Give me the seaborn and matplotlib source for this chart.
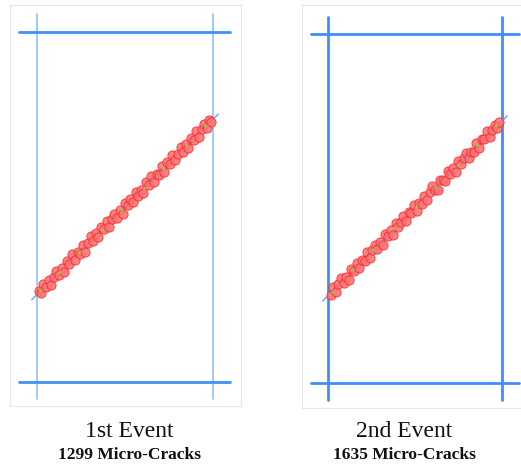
import matplotlib
matplotlib.use("Agg")
import matplotlib.pyplot as plt
import seaborn as sns
import pandas as pd

sns.set_style("white")
plt.rcParams['font.family'] = ['Liberation Serif', 'DejaVu Serif']

# specimen geometry (units)
spec_w = 50
spec_h = 100
overhang = 5
# fracture plane (x0, y0) -> (x1, y1)
frac_x = [-1.5, 51.5]
frac_y = [23.5, 76.5]

titles = ["1st Event", "2nd Event"]
counts = ["1299 Micro-Cracks", "1635 Micro-Cracks"]

ev1_x = [0.5, 1.2, 1.8, 2.6, 3.3, 4.0, 4.9, 5.5, 6.3, 7.0, 7.8, 8.5, 9.1, 10.0, 10.7, 11.5, 12.2,
         13.0, 13.6, 14.5, 15.2, 16.0, 16.7, 17.4, 18.3, 19.0, 19.8, 20.5, 21.2, 22.0, 22.8, 23.5,
         24.3, 25.0, 25.8, 26.5, 27.3, 28.0, 28.8, 29.5, 30.2, 31.0, 31.8, 32.5, 33.3, 34.0, 34.8,
         35.5, 36.2, 37.0, 37.8, 38.5, 39.3, 40.0, 40.8, 41.5, 42.3, 43.0, 43.8, 44.5, 45.3, 46.0,
         46.8, 47.5, 48.3, 49.0, 49.6]
ev1_y = [25.9, 25.3, 27.9, 27.1, 29.1, 27.8, 30.1, 31.8, 30.6, 32.6, 31.5, 34.5, 33.8, 36.4, 34.7,
         37.0, 36.6, 39.2, 37.2, 39.8, 41.7, 40.2, 42.4, 41.3, 44.3, 43.6, 46.1, 44.3, 46.6, 48.1,
         46.9, 49.1, 47.9, 51.2, 50.6, 52.4, 51.3, 54.4, 53.2, 54.8, 53.9, 57.0, 56.3, 58.8, 57.2,
         59.5, 59.0, 61.6, 60.0, 62.7, 62.4, 64.9, 63.3, 65.2, 67.0, 65.6, 67.9, 66.7, 69.8, 69.2,
         71.6, 69.9, 72.2, 73.6, 72.6, 74.8, 74.2]

ev2_x = [0.8, 1.5, 2.2, 3.0, 3.7, 4.5, 5.2, 6.0, 6.7, 7.5, 8.2, 9.0, 9.7, 10.5, 11.2, 12.0, 12.7,
         13.5, 14.2, 15.0, 15.7, 16.5, 17.2, 18.0, 18.7, 19.5, 20.2, 21.0, 21.7, 22.5, 23.2, 24.0,
         24.7, 25.5, 26.2, 27.0, 27.7, 28.5, 29.2, 30.0, 30.7, 31.5, 32.2, 33.0, 33.7, 34.5, 35.2,
         36.0, 36.7, 37.5, 38.2, 39.0, 39.7, 40.5, 41.2, 42.0, 42.7, 43.5, 44.2, 45.0, 45.7, 46.5,
         47.2, 48.0, 48.7, 49.3]
ev2_y = [25.2, 27.5, 26.0, 28.4, 30.0, 28.7, 30.4, 29.6, 32.6, 32.2, 34.4, 33.0, 35.3, 35.0, 37.6,
         35.9, 38.0, 39.5, 38.3, 40.5, 39.4, 42.6, 42.0, 43.8, 42.5, 45.8, 44.6, 46.1, 47.9, 46.5,
         48.9, 48.6, 51.1, 49.2, 51.6, 51.3, 53.7, 52.4, 54.8, 56.3, 55.2, 55.3, 58.1, 58.2, 57.8,
         60.7, 59.9, 61.7, 60.3, 63.5, 62.6, 64.4, 66.0, 64.5, 66.3, 66.2, 68.8, 67.3, 69.8, 69.8,
         72.1, 70.6, 72.5, 74.0, 73.0, 74.8]

# tensile cracks (green) along the plane
gr1_x = [1.0, 6.5, 12.0, 18.5, 24.0, 30.5, 36.0, 42.5, 48.0]
gr1_y = [26.2, 31.3, 37.1, 43.4, 49.2, 55.3, 61.0, 67.6, 73.2]
gr2_x = [1.5, 7.0, 13.0, 19.0, 25.5, 31.0, 37.5, 43.0, 48.5]
gr2_y = [26.0, 32.4, 38.0, 44.2, 50.3, 56.1, 62.3, 68.2, 73.8]

fig = plt.figure(figsize=(5.21, 4.66), dpi=100)
W, H = 521, 466
ax1 = fig.add_axes([10 / W, (H - 406) / H, 231 / W, 401 / H])
ax2 = fig.add_axes([302 / W, (H - 408) / H, 228 / W, 403 / H])

panels = [
    (ax1, ev1_x, ev1_y, gr1_x, gr1_y, (-7.7, 58.0), (-6.9, 107.7), '#8cc2fb', 1.2, '#3f93f2', 2.0),
    (ax2, ev2_x, ev2_y, gr2_x, gr2_y, (-7.5, 58.1), (-7.2, 108.3), '#3d8ff5', 2.0, '#3d8ff5', 2.0),
]

for i, (ax, cx, cy, gx, gy, xl, yl, vcol, vlw, hcol, hlw) in enumerate(panels):
    # specimen boundary lines
    for xv in [0, spec_w]:
        ax.plot([xv, xv], [-overhang, spec_h + overhang], color=vcol, lw=vlw, zorder=1)
    for yv in [0, spec_h]:
        ax.plot([-overhang, spec_w + overhang], [yv, yv], color=hcol, lw=hlw, zorder=1)
    # fracture plane
    ax.plot(frac_x, frac_y, color='#7db8f5', lw=1.2, zorder=1)
    df = pd.DataFrame({'x': cx, 'y': cy})
    sns.scatterplot(data=df, x='x', y='y', ax=ax, marker='o', s=44,
                    facecolor='#ff7474', edgecolor='#ff2020', linewidth=0.6, alpha=0.9, zorder=3)
    dg = pd.DataFrame({'x': gx, 'y': gy})
    sns.scatterplot(data=dg, x='x', y='y', ax=ax, marker='o', s=6,
                    color='#9cc640', edgecolor='none', zorder=4)
    ax.plot(frac_x, frac_y, color='#8a7fd0', lw=0.6, ls=(0, (2, 2)), zorder=5, alpha=0.6)
    ax.set_xlim(*xl)
    ax.set_ylim(*yl)
    ax.set_xlabel('')
    ax.set_ylabel('')
    ax.set_xticks([])
    ax.set_yticks([])
    for sp in ax.spines.values():
        sp.set_color('#e6e6e6')
        sp.set_linewidth(0.8)

centers = [129 / W, 404 / W]
for cxp, t, c in zip(centers, titles, counts):
    fig.text(cxp, (H - 436.7) / H, t, ha='center', va='baseline', fontsize=17, color='#111111')
    fig.text(cxp, (H - 459.3) / H, c, ha='center', va='baseline', fontsize=12.5,
             fontweight='bold', color='#111111')

fig.savefig('out.png', dpi=100)
